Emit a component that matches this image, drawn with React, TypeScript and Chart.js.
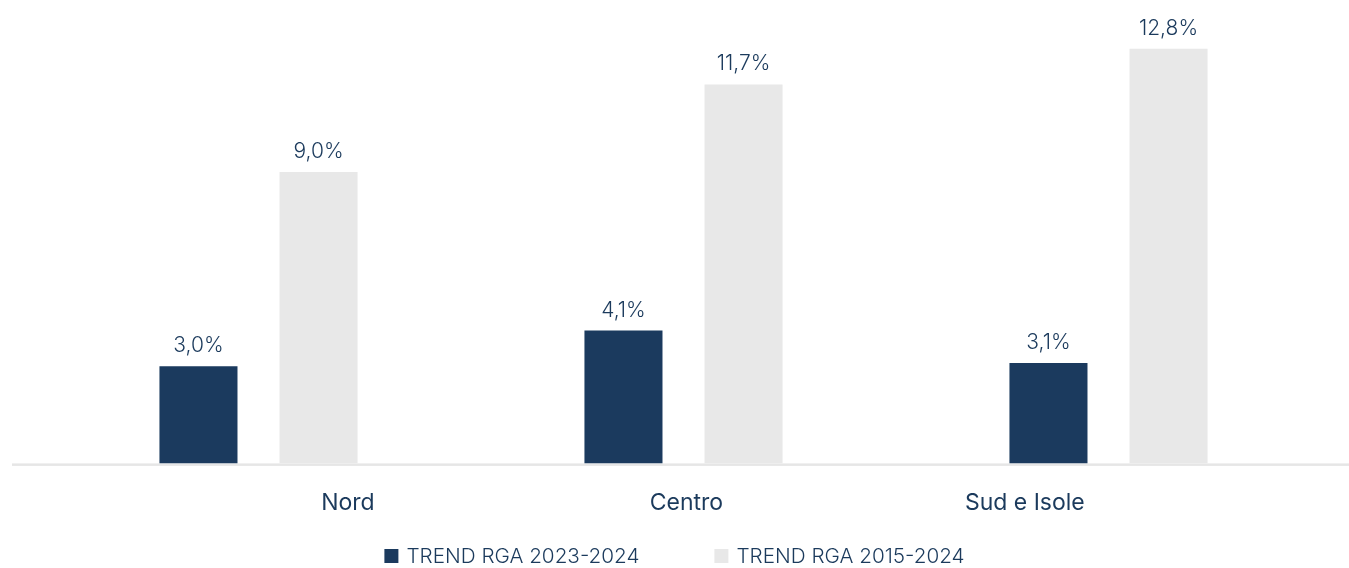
import React, { useEffect, useRef } from 'react';
import { Chart, registerables } from 'chart.js';

Chart.register(...registerables);

const categories = ['Nord', 'Centro', 'Sud e Isole'];
const seriesNames = ['TREND RGA 2023-2024', 'TREND RGA 2015-2024'];
const trend2023_2024 = [3.0, 4.1, 3.1];
const trend2015_2024 = [9.0, 11.7, 12.8];
const seriesColors = ['#1b3a5e', '#e8e8e8'];

const TEXT_COLOR = '#1b3a5c';
const FONT = 'Inter, Roboto, "Noto Sans", sans-serif';

const fmt = (v: number) => v.toFixed(1).replace('.', ',') + '%';

const baselinePlugin = {
  id: 'baseline',
  beforeDatasetsDraw(chart: any) {
    const { ctx } = chart;
    const y = chart.scales.y.getPixelForValue(0);
    ctx.save();
    ctx.fillStyle = '#e6e6e6';
    ctx.fillRect(12, y, chart.width - 12, 2.5);
    ctx.restore();
  },
};

const dataLabelPlugin = {
  id: 'dataLabels',
  afterDatasetsDraw(chart: any) {
    const { ctx } = chart;
    ctx.save();
    ctx.fillStyle = TEXT_COLOR;
    ctx.font = `300 21px ${FONT}`;
    ctx.textAlign = 'center';
    ctx.textBaseline = 'alphabetic';
    chart.data.datasets.forEach((ds: any, di: number) => {
      const meta = chart.getDatasetMeta(di);
      meta.data.forEach((el: any, i: number) => {
        ctx.fillText(fmt(ds.data[i]), el.x, el.y - 14);
      });
    });
    ctx.restore();
  },
};

const legendPlugin = {
  id: 'customLegend',
  afterDraw(chart: any) {
    const { ctx } = chart;
    const box = 14;
    const gap = 8;
    const itemGap = 75;
    ctx.save();
    ctx.font = `300 20.7px ${FONT}`;
    const items = chart.data.datasets.map((ds: any) => ({
      text: ds.label,
      color: ds.backgroundColor,
      w: box + gap + ctx.measureText(ds.label).width,
    }));
    const total = items.reduce((s: number, it: any) => s + it.w, 0) + itemGap * (items.length - 1);
    let x = (chart.width - total) / 2;
    const yc = chart.height - 12;
    items.forEach((it: any) => {
      ctx.fillStyle = it.color;
      ctx.fillRect(x, yc - box / 2, box, box);
      ctx.fillStyle = TEXT_COLOR;
      ctx.textAlign = 'left';
      ctx.textBaseline = 'middle';
      ctx.fillText(it.text, x + box + gap, yc + 1);
      x += it.w + itemGap;
    });
    ctx.restore();
  },
};

export default function App() {
  const canvasRef = useRef<HTMLCanvasElement | null>(null);

  useEffect(() => {
    document.body.style.margin = '0';
    const canvas = canvasRef.current;
    if (!canvas) return;
    Chart.defaults.font.family = FONT;
    const chart = new Chart(canvas, {
      type: 'bar',
      data: {
        labels: categories,
        datasets: [
          {
            label: seriesNames[0],
            data: trend2023_2024,
            backgroundColor: seriesColors[0],
            categoryPercentage: 0.565,
            barPercentage: 0.65,
          },
          {
            label: seriesNames[1],
            data: trend2015_2024,
            backgroundColor: seriesColors[1],
            categoryPercentage: 0.565,
            barPercentage: 0.65,
          },
        ],
      },
      options: {
        animation: false,
        responsive: true,
        maintainAspectRatio: false,
        layout: { padding: { left: 46, right: 28, top: 10, bottom: 25 } },
        plugins: {
          legend: { display: false },
          tooltip: { enabled: false },
        },
        scales: {
          x: { display: false },
          y: { display: false, min: 0, max: 14 },
          x2: {
            type: 'linear',
            position: 'bottom',
            offset: false,
            min: 0.108,
            max: 3.875,
            grid: { display: false, drawTicks: false },
            border: { display: false },
            ticks: {
              stepSize: 1,
              autoSkip: false,
              maxRotation: 0,
              padding: 26,
              color: TEXT_COLOR,
              font: { size: 23, family: FONT, weight: '400' },
              callback: (v: any) => (Number.isInteger(v) && v >= 1 && v <= categories.length ? categories[v - 1] : ''),
            },
          },
        },
      },
      plugins: [baselinePlugin, dataLabelPlugin, legendPlugin],
    });
    return () => chart.destroy();
  }, []);

  return (
    <div style={{ width: '1349px', height: '568px', position: 'relative' }}>
      <canvas ref={canvasRef} />
    </div>
  );
}
